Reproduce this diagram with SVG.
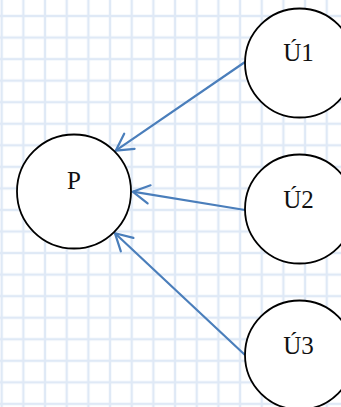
<svg xmlns="http://www.w3.org/2000/svg" width="341" height="407" viewBox="0 0 341 407">
  <defs>
    <!-- light-blue squared paper -->
    <pattern id="grid" patternUnits="userSpaceOnUse" x="1.7" y="16" width="21.67" height="21.55">
      <path d="M0 0 V21.55 M0 0 H21.67" fill="none" stroke="#dfe9f6" stroke-width="2.4"/>
      <path d="M21.67 0 V21.55 M0 21.55 H21.67" fill="none" stroke="#dfe9f6" stroke-width="2.4"/>
    </pattern>
    <marker id="open-arrow" markerUnits="userSpaceOnUse" markerWidth="40" markerHeight="40"
            viewBox="-20 -20 40 40" refX="0" refY="0" orient="auto" overflow="visible">
      <path d="M-16.6 -9.2 L0 0 L-16.6 9.2" fill="none" stroke="#4a7ebb" stroke-width="2.2"
            stroke-linecap="round" stroke-linejoin="round"/>
    </marker>
  </defs>
  <style>
    .node circle { fill: #ffffff; stroke: #000000; stroke-width: 1.8; }
    .node text { font-family: "Liberation Serif", "Times New Roman", serif; font-size: 25px; fill: #111111; text-anchor: middle; }
    .edge { fill: none; stroke: #4a7ebb; stroke-width: 2.2; marker-end: url(#open-arrow); }
  </style>

  <rect x="0" y="0" width="341" height="407" fill="#ffffff"/>
  <rect x="0" y="0" width="341" height="407" fill="url(#grid)"/>

  <g id="connectors">
    <line class="edge" x1="245" y1="62" x2="115.7" y2="150.7"/>
    <line class="edge" x1="245" y1="210" x2="132.7" y2="191.7"/>
    <line class="edge" x1="245" y1="355" x2="115" y2="233.3"/>
  </g>

  <g id="node-P" class="node">
    <circle cx="74" cy="191.5" r="57"/>
    <text x="74" y="188.5">P</text>
  </g>
  <g id="node-U1" class="node">
    <circle cx="299.5" cy="63" r="54.5"/>
    <text x="298.5" y="61">Ú1</text>
  </g>
  <g id="node-U2" class="node">
    <circle cx="299.5" cy="209" r="54.5"/>
    <text x="298.5" y="207.5">Ú2</text>
  </g>
  <g id="node-U3" class="node">
    <circle cx="299.5" cy="355" r="54.5"/>
    <text x="298.5" y="354">Ú3</text>
  </g>
</svg>
